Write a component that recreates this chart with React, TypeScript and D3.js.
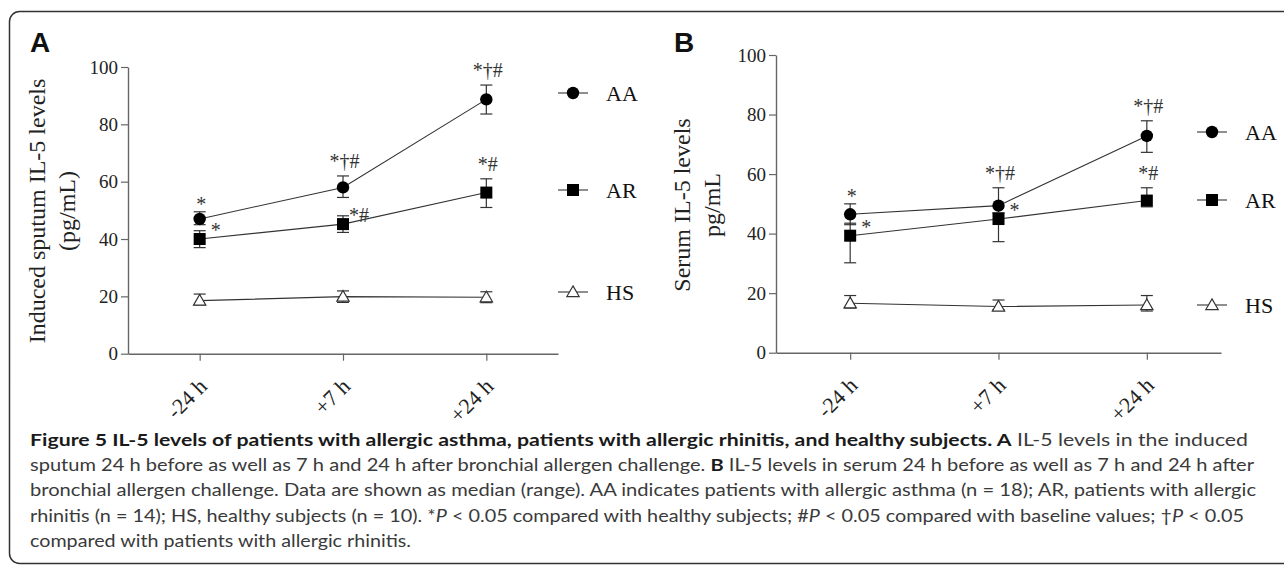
import React, { useEffect, useRef } from "react";
import {
  select,
  scaleLinear,
  scalePoint,
  axisLeft,
  axisBottom,
  line,
  symbol,
  symbolTriangle,
} from "d3";

// shared categories
const timepoints = ["-24 h", "+7 h", "+24 h"];
const groups = ["AA", "AR", "HS"];
const yTicks = [0, 20, 40, 60, 80, 100];

// A: induced sputum IL-5 (median, range)
const sputumAA = [47, 58, 88.7];
const sputumAALow = [45, 54.5, 83.6];
const sputumAAHigh = [49.5, 62, 93.7];
const sputumAR = [40, 45.2, 56.2];
const sputumARLow = [37, 42.3, 51];
const sputumARHigh = [42.9, 48.1, 61];
const sputumHS = [18.5, 19.9, 19.7];
const sputumHSLow = [17, 17.9, 17.8];
const sputumHSHigh = [20.8, 21.9, 21.6];
const sputumAAMarks = ["*", "*†#", "*†#"];
const sputumARMarks = ["*", "*#", "*#"];

// B: serum IL-5 (median, range)
const serumAA = [46.5, 49.4, 72.8];
const serumAALow = [43, 47, 67.3];
const serumAAHigh = [50, 55.4, 77.9];
const serumAR = [39.3, 44.9, 51.1];
const serumARLow = [30.2, 37.3, 49];
const serumARHigh = [43.5, 47, 55.4];
const serumHS = [16.6, 15.5, 16];
const serumHSLow = [15, 14.5, 14];
const serumHSHigh = [19.2, 17.7, 19.2];
const serumAAMarks = ["*", "*†#", "*†#"];
const serumARMarks = ["*", "*", "*#"];

const captionLines: [string, string][][] = [
  [
    ["b", "Figure 5 IL-5 levels of patients with allergic asthma, patients with allergic rhinitis, and healthy subjects. A"],
    ["r", " IL-5 levels in the induced"],
  ],
  [
    ["r", "sputum 24 h before as well as 7 h and 24 h after bronchial allergen challenge. "],
    ["b", "B"],
    ["r", " IL-5 levels in serum 24 h before as well as 7 h and 24 h after"],
  ],
  [
    ["r", "bronchial allergen challenge. Data are shown as median (range). AA indicates patients with allergic asthma (n = 18); AR, patients with allergic"],
  ],
  [
    ["r", "rhinitis (n = 14); HS, healthy subjects (n = 10). *"],
    ["i", "P"],
    ["r", " < 0.05 compared with healthy subjects; #"],
    ["i", "P"],
    ["r", " < 0.05 compared with baseline values; †"],
    ["i", "P"],
    ["r", " < 0.05"],
  ],
  [["r", "compared with patients with allergic rhinitis."]],
];
const captionWidths = [1218, 1224, 1226, 1214, 381];

const serif = "'Liberation Serif', 'Times New Roman', serif";
const ink = "#333";

const drawPanel = (svg: any, p: any) => {
  const x = scalePoint().domain(timepoints).range([p.left, p.right]).padding(0.5);
  const y = scaleLinear().domain([0, 100]).range([p.bottom, p.top]);
  const g = svg.append("g");

  g.append("text")
    .attr("x", p.letterX)
    .attr("y", 52)
    .attr("font-family", "'Liberation Sans', Arial, sans-serif")
    .attr("font-weight", "bold")
    .attr("font-size", 28)
    .attr("fill", "#111")
    .text(p.letter);

  const yAxis = g
    .append("g")
    .attr("transform", `translate(${p.left},0)`)
    .call(axisLeft(y).tickValues(yTicks).tickSize(7).tickSizeOuter(0).tickPadding(3));
  const xAxis = g
    .append("g")
    .attr("transform", `translate(0,${p.bottom})`)
    .call(axisBottom(x).tickSize(7).tickSizeOuter(0));
  [yAxis, xAxis].forEach((a) => {
    a.select(".domain").attr("stroke", "#666").attr("stroke-width", 1.4);
    a.selectAll(".tick line").attr("stroke", "#666").attr("stroke-width", 1.2);
    a.selectAll("text").attr("font-family", serif).attr("fill", "#222");
  });
  yAxis.selectAll("text").attr("font-size", 19);
  xAxis
    .selectAll("text")
    .attr("font-size", 22)
    .attr("text-anchor", "end")
    .attr("dy", null)
    .attr("y", null)
    .attr("transform", "translate(8,34) rotate(-45)");

  // y label
  p.yLabel.forEach((t: string, i: number) => {
    g.append("text")
      .attr("transform", `translate(${p.labelX[i]},${p.labelY}) rotate(-90)`)
      .attr("text-anchor", "middle")
      .attr("font-family", serif)
      .attr("font-size", 24)
      .attr("fill", "#222")
      .text(t);
  });

  const path = line<number>()
    .x((_, i) => x(timepoints[i])!)
    .y((d) => y(d));

  p.series.forEach((s: any) => {
    g.append("path")
      .attr("d", path(s.values))
      .attr("fill", "none")
      .attr("stroke", ink)
      .attr("stroke-width", 1.1);
    s.values.forEach((v: number, i: number) => {
      const cx = x(timepoints[i])!;
      const eb = g.append("g").attr("stroke", ink).attr("stroke-width", 1.2);
      eb.append("line").attr("x1", cx).attr("x2", cx).attr("y1", y(s.low[i])).attr("y2", y(s.high[i]));
      [s.low[i], s.high[i]].forEach((e: number) =>
        eb.append("line").attr("x1", cx - 6).attr("x2", cx + 6).attr("y1", y(e)).attr("y2", y(e))
      );
    });
  });

  const marker = (sel: any, kind: string, cx: number, cy: number) => {
    if (kind === "AA") sel.append("circle").attr("cx", cx).attr("cy", cy).attr("r", 6.2).attr("fill", "#000");
    else if (kind === "AR")
      sel.append("rect").attr("x", cx - 6).attr("y", cy - 6).attr("width", 12).attr("height", 12).attr("fill", "#000");
    else
      sel
        .append("path")
        .attr("d", symbol().type(symbolTriangle).size(66)())
        .attr("transform", `translate(${cx},${cy + 1})`)
        .attr("fill", "#fff")
        .attr("stroke", ink)
        .attr("stroke-width", 1.2);
  };

  p.series.forEach((s: any) => {
    s.values.forEach((v: number, i: number) => marker(g, s.name, x(timepoints[i])!, y(v)));
  });

  // significance marks
  p.series.forEach((s: any) => {
    if (!s.marks) return;
    s.marks.forEach((m: string, i: number) => {
      const cx = x(timepoints[i])!;
      const right = s.place[i] === "right";
      g.append("text")
        .attr("x", right ? cx + 16 : cx + 1.5)
        .attr("y", right ? y(s.values[i]) - 2 : y(s.high[i]) - (m.length > 1 ? 8 : 1))
        .attr("text-anchor", "middle")
        .attr("font-family", serif)
        .attr("font-size", 20)
        .attr("fill", ink)
        .text(m);
    });
  });

  // legend
  p.series.forEach((s: any, i: number) => {
    const ly = p.legendY[i];
    g.append("line")
      .attr("x1", p.legendX - 15)
      .attr("x2", p.legendX + 15)
      .attr("y1", ly)
      .attr("y2", ly)
      .attr("stroke", ink)
      .attr("stroke-width", 1.1);
    marker(g, s.name, p.legendX, ly);
    g.append("text")
      .attr("x", p.legendX + 33)
      .attr("y", ly + 7.5)
      .attr("font-family", serif)
      .attr("font-size", 22)
      .attr("fill", "#111")
      .text(s.name);
  });
};

export default function App() {
  const svgRef = useRef<SVGSVGElement | null>(null);

  useEffect(() => {
    const svg = select(svgRef.current);
    svg.selectAll("*").remove();

    // frame, open on the right like the cropped figure box
    svg
      .append("rect")
      .attr("x", 9.5)
      .attr("y", 11.5)
      .attr("width", 1320)
      .attr("height", 552)
      .attr("rx", 10)
      .attr("fill", "none")
      .attr("stroke", "#333")
      .attr("stroke-width", 1.5);

    drawPanel(svg, {
      letter: "A",
      letterX: 30,
      left: 128,
      right: 558,
      top: 67,
      bottom: 353.7,
      yLabel: ["Induced sputum IL-5 levels", "(pg/mL)"],
      labelX: [45, 75],
      labelY: 211,
      legendX: 573,
      legendY: [93, 190, 292],
      series: [
        { name: groups[0], values: sputumAA, low: sputumAALow, high: sputumAAHigh, marks: sputumAAMarks, place: ["above", "above", "above"] },
        { name: groups[1], values: sputumAR, low: sputumARLow, high: sputumARHigh, marks: sputumARMarks, place: ["right", "right", "above"] },
        { name: groups[2], values: sputumHS, low: sputumHSLow, high: sputumHSHigh },
      ],
    });

    drawPanel(svg, {
      letter: "B",
      letterX: 674,
      left: 776,
      right: 1221,
      top: 55,
      bottom: 352.7,
      yLabel: ["Serum IL-5 levels", "pg/mL"],
      labelX: [690, 720],
      labelY: 205,
      legendX: 1212,
      legendY: [132, 200, 305],
      series: [
        { name: groups[0], values: serumAA, low: serumAALow, high: serumAAHigh, marks: serumAAMarks, place: ["above", "above", "above"] },
        { name: groups[1], values: serumAR, low: serumARLow, high: serumARHigh, marks: serumARMarks, place: ["right", "right", "above"] },
        { name: groups[2], values: serumHS, low: serumHSLow, high: serumHSHigh },
      ],
    });

    // caption
    captionLines.forEach((segs, i) => {
      const t = svg
        .append("text")
        .attr("x", 30)
        .attr("y", 446 + i * 25.2)
        .attr("font-family", "Lato, 'Open Sans', sans-serif")
        .attr("font-size", 17.5)
        .attr("fill", "#3a3a3a")
        .attr("textLength", captionWidths[i])
        .attr("lengthAdjust", "spacingAndGlyphs");
      segs.forEach(([w, s]) => {
        t.append("tspan")
          .attr("font-weight", w === "b" ? "bold" : null)
          .attr("font-style", w === "i" ? "italic" : null)
          .attr("fill", w === "b" ? "#1a1a1a" : null)
          .text(s);
      });
    });
  }, []);

  return (
    <svg
      ref={svgRef}
      width={1284}
      height={567}
      style={{ position: "absolute", left: 0, top: 0, background: "#fff" }}
    ></svg>
  );
}
